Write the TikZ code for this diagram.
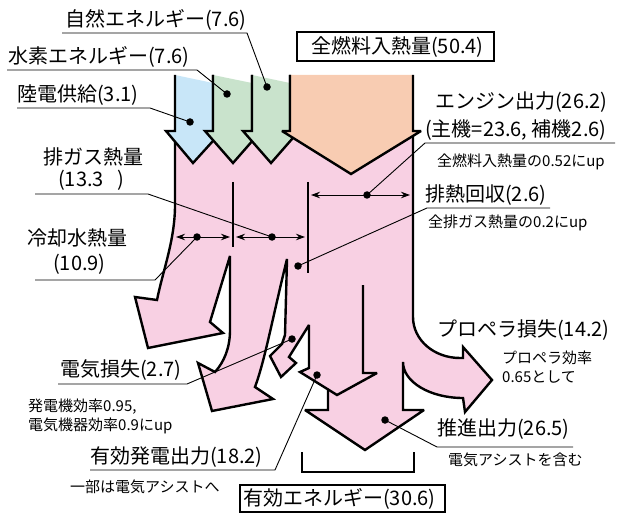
\documentclass[tikz,border=0pt]{standalone}
\usepackage{fontspec}
\setmainfont{Noto Sans CJK JP}
\usetikzlibrary{arrows.meta}
\definecolor{pinkf}{RGB}{248,208,227}
\definecolor{bluef}{RGB}{200,230,248}
\definecolor{greenf}{RGB}{201,227,204}
\definecolor{orangef}{RGB}{248,204,178}
\begin{document}
\begin{tikzpicture}[x=1pt,y=-1pt,
  outline/.style={line width=2.4pt,line join=miter,miter limit=3},
  divider/.style={line width=2.4pt},
  leader/.style={line width=0.9pt},
  dimarrow/.style={line width=0.9pt,{Stealth[length=9pt,width=6.5pt]}-{Stealth[length=9pt,width=6.5pt]}},
  dotnode/.style={circle,fill=black,inner sep=0pt,minimum size=7.5pt},
  bigtext/.style={anchor=west,inner sep=0pt,font=\fontsize{20}{22}\selectfont},
  smalltext/.style={anchor=west,inner sep=0pt,font=\fontsize{15}{17}\selectfont},
  frame/.style={line width=1.5pt}]
\useasboundingbox (0,0) rectangle (618,513);

% pink main body
\path[fill=pinkf,draw=black,outline] (175,133) -- (175,205) .. controls (175,240) and (163,270) .. (157,300)
 -- (135,297) -- (148,348) -- (223,333) -- (210,322) -- (230,256) -- (230,330)
 .. controls (230,348) and (224,362) .. (215,372)
 -- (198,363) -- (212,411) -- (273,399) -- (255,387)
 .. controls (265,360) and (272,320) .. (287,259)
 -- (285,335) -- (282,344) -- (270,356) -- (281,377) -- (296,363) -- (289,357) -- (309,325)
 -- (309,368) -- (300,372) -- (328,389.4) -- (328,410) -- (305,410) -- (365,450) -- (424,410)
 -- (403,410) -- (403,362) .. controls (403,382) and (430,398) .. (463,398)
 -- (465,412) -- (492,380) -- (463,347) -- (463,358) -- (460,358)
 .. controls (434,358) and (413,340) .. (413,317) -- (413,133) -- cycle;

% internal lines
\draw[outline] (328,389.4) -- (337,395) -- (377,373) -- (363,373) -- (363,285);
\draw[divider] (233,182) -- (233,247);
\draw[divider] (308,182) -- (308,273);

% input arrows
\fill[bluef] (175,75) -- (213,83) -- (213,131) -- (222,131) -- (193,163) -- (166,131) -- (175,131) -- cycle;
\draw[outline] (175,75) -- (175,131) -- (166,131) -- (193,163) -- (222,131) -- (213,131) -- (213,75);
\fill[greenf] (213,75) -- (252,83) -- (252,131) -- (261,131) -- (233,163) -- (205,131) -- (213,131) -- cycle;
\draw[outline] (213,75) -- (213,131) -- (205,131) -- (233,163) -- (261,131) -- (252,131) -- (252,75);
\fill[greenf] (252,75) -- (290,83) -- (290,131) -- (299,131) -- (271,163) -- (243,131) -- (252,131) -- cycle;
\draw[outline] (252,75) -- (252,131) -- (243,131) -- (271,163) -- (299,131) -- (290,131) -- (290,75);
\fill[orangef] (290,75) -- (413,75) -- (413,131) -- (421,131) -- (351,174) -- (282,131) -- (290,131) -- cycle;
\draw[outline] (290,75) -- (290,131) -- (282,131) -- (351,174) -- (421,131) -- (413,131) -- (413,75);

% dimension arrows
\coordinate (a1l) at (176,237); \coordinate (a1r) at (230,237);
\coordinate (a2l) at (236,237); \coordinate (a2r) at (305,237);
\coordinate (a3l) at (311,195); \coordinate (a3r) at (410,195);
\draw[dimarrow] (a1l) -- (a1r);
\draw[dimarrow] (a2l) -- (a2r);
\draw[dimarrow] (a3l) -- (a3r);

% dots
\node[dotnode] (d1) at (267,87) {};
\node[dotnode] (d2) at (227,94) {};
\node[dotnode] (d3) at (190,122) {};
\node[dotnode] (d4) at (367,195) {};
\node[dotnode] (d5) at (272,237) {};
\node[dotnode] (d6) at (197,237) {};
\node[dotnode] (d7) at (298,266) {};
\node[dotnode] (d8) at (292,339) {};
\node[dotnode] (d9) at (317,375) {};
\node[dotnode] (d10) at (385,420) {};

% leader coordinates
\coordinate (u1a) at (62,33);  \coordinate (u1b) at (247,33);
\coordinate (u2a) at (7,70);   \coordinate (u2b) at (197,70);
\coordinate (u3a) at (17,108); \coordinate (u3b) at (150,108);
\coordinate (u4a) at (425,143); \coordinate (u4b) at (615,143);
\coordinate (u5a) at (35,194); \coordinate (u5b) at (148,194);
\coordinate (u6a) at (35,280); \coordinate (u6b) at (155,280);
\coordinate (u7a) at (427,208); \coordinate (u7b) at (550,208);
\coordinate (u8a) at (58,384); \coordinate (u8b) at (187,384);
\coordinate (u9a) at (90,470); \coordinate (u9b) at (275,470);
\coordinate (u10a) at (437,447); \coordinate (u10b) at (573,447);

\draw[leader] (u1a) -- (u1b) -- (d1.center);
\draw[leader] (u2a) -- (u2b) -- (d2.center);
\draw[leader] (u3a) -- (u3b) -- (d3.center);
\draw[leader] (u4b) -- (u4a) -- (d4.center);
\draw[leader] (u5a) -- (u5b) -- (d5.center);
\draw[leader] (u6a) -- (u6b) -- (d6.center);
\draw[leader] (u7b) -- (u7a) -- (d7.center);
\draw[leader] (u8a) -- (u8b) -- (d8.center);
\draw[leader] (u9a) -- (u9b) -- (d9.center);
\draw[leader] (u10b) -- (u10a) -- (d10.center);

% bracket
\draw[line width=2pt] (302,452) -- (302,472) -- (414,472) -- (414,452);

% frames
\draw[frame] (297,32) rectangle (494,61);
\draw[frame] (240,485) rectangle (445,512);

% texts
\node[bigtext] (t1) at (65,20) {自然エネルギー(7.6)};
\node[bigtext] (t2) at (8,57) {水素エネルギー(7.6)};
\node[bigtext] (t3) at (17,95) {陸電供給(3.1)};
\node[bigtext] (t4) at (311,47) {全燃料入熱量(50.4)};
\node[bigtext] (t5) at (435,102) {エンジン出力(26.2)};
\node[bigtext] (t6) at (425,130) {(主機=23.6, 補機2.6)};
\node[smalltext] (t7) at (437,162) {全燃料入熱量の0.52にup};
\node[bigtext] (t8) at (425,195) {排熱回収(2.6)};
\node[smalltext] (t9) at (428,223) {全排ガス熱量の0.2にup};
\node[bigtext] (t10) at (43,157) {排ガス熱量};
\node[bigtext] (t11) at (58,180) {(13.3\hspace{14pt})};
\node[bigtext] (t12) at (27,238) {冷却水熱量};
\node[bigtext] (t13) at (53,264) {(10.9)};
\node[bigtext] (t14) at (60,370) {電気損失(2.7)};
\node[smalltext] (t15) at (28,407) {発電機効率0.95,};
\node[smalltext] (t16) at (28,426) {電気機器効率0.9にup};
\node[bigtext] (t17) at (90,457) {有効発電出力(18.2)};
\node[smalltext] (t18) at (70,487) {一部は電気アシストへ};
\node[bigtext] (t19) at (243,499) {有効エネルギー(30.6)};
\node[bigtext] (t20) at (437,330) {プロペラ損失(14.2)};
\node[smalltext] (t21) at (502,358) {プロペラ効率};
\node[smalltext] (t22) at (502,377) {0.65として};
\node[bigtext] (t23) at (437,429) {推進出力(26.5)};
\node[smalltext] (t24) at (448,460) {電気アシストを含む};
\end{tikzpicture}
\end{document}
